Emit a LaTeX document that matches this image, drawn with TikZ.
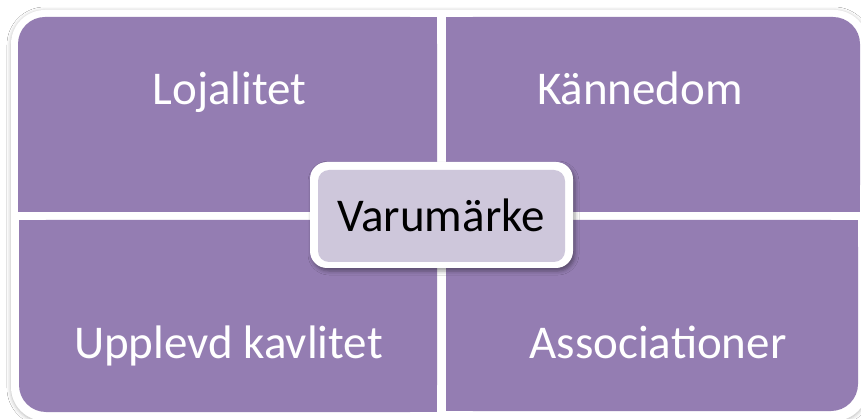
\documentclass[tikz,border=0pt]{standalone}
\usepackage{fontspec}
\setmainfont{Carlito}
\usetikzlibrary{shadows.blur}
\definecolor{quadpurple}{RGB}{148,125,178}
\definecolor{centerlilac}{RGB}{206,199,219}
\tikzset{
  quad/.style={fill=quadpurple},
  qlabel/.style={anchor=base, text=white, font=\fontsize{47}{56}\selectfont, inner sep=0pt},
  clabel/.style={anchor=base, text=black, font=\fontsize{47}{56}\selectfont, inner sep=0pt},
}
\begin{document}
\begin{tikzpicture}[x=1pt,y=-1pt]
\useasboundingbox (0,0) rectangle (861,419);
\fill[white] (0,0) rectangle (861,419);
% outer white frame with soft shadow
\fill[white, rounded corners=34pt, blur shadow={shadow xshift=0pt, shadow yshift=-1pt, shadow blur radius=4pt, shadow opacity=30}] (11,10) rectangle (868,421);
% top-left quadrant
\fill[quad, rounded corners=27pt] (18,17) rectangle (437,212);
\fill[quad] (45,17) rectangle (437,212);
\fill[quad] (18,44) rectangle (437,212);
% top-right quadrant
\fill[quad, rounded corners=27pt] (446,17) rectangle (860,212);
\fill[quad] (446,17) rectangle (833,212);
\fill[quad] (446,44) rectangle (860,212);
% bottom-left quadrant
\fill[quad, rounded corners=27pt] (19,220) rectangle (437,412);
\fill[quad] (46,220) rectangle (437,412);
\fill[quad] (19,220) rectangle (437,385);
% bottom-right quadrant
\fill[quad, rounded corners=27pt] (446,220) rectangle (858,411);
\fill[quad] (446,220) rectangle (831,411);
\fill[quad] (446,220) rectangle (858,384);
% centre box
\fill[white, rounded corners=17pt, blur shadow={shadow xshift=2pt, shadow yshift=-3pt, shadow blur radius=4pt, shadow opacity=40}] (310,162) rectangle (573,268);
\fill[centerlilac, rounded corners=11pt] (318,170) rectangle (565,262);
% labels
\node[qlabel] (loj) at (229.5,105) {Lojalitet};
\node[qlabel] (kan) at (640,105) {Kännedom};
\node[qlabel] (upp) at (228.5,358) {Upplevd kavlitet};
\node[qlabel] (ass) at (658,358) {Associationer};
\node[clabel] (var) at (441,232) {Varumärke};
\end{tikzpicture}
\end{document}
